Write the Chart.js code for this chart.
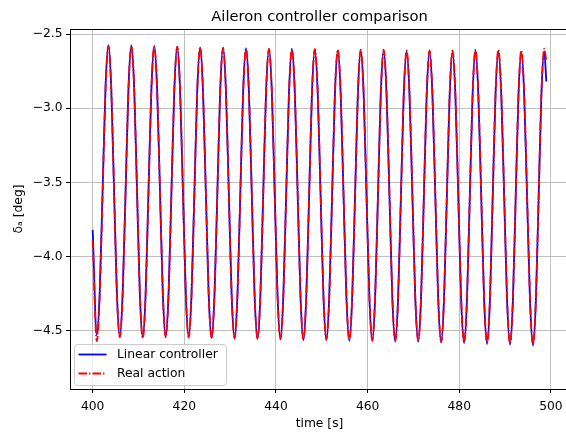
<!DOCTYPE html>
<html>
<head>
<meta charset="utf-8">
<script src="https://cdn.jsdelivr.net/npm/chart.js@4.4.1/dist/chart.umd.min.js"></script>
<style>
  html, body { margin: 0; padding: 0; background: #fff; overflow: hidden; }
  #wrap { width: 570px; height: 433px; }
</style>
</head>
<body>
<div id="wrap"><canvas id="chart" width="570" height="433"></canvas></div>
<script>
// time samples [s], eight per oscillation cycle (trough ... peak ...)
const times = [
  400.00,
  400.90, 401.53, 402.17, 402.80, 403.43, 404.05, 404.67, 405.29,
  405.91, 406.54, 407.18, 407.81, 408.44, 409.06, 409.68, 410.30,
  410.92, 411.55, 412.18, 412.81, 413.44, 414.06, 414.69, 415.31,
  415.93, 416.56, 417.19, 417.82, 418.45, 419.07, 419.70, 420.32,
  420.94, 421.57, 422.20, 422.82, 423.45, 424.07, 424.70, 425.32,
  425.95, 426.58, 427.21, 427.83, 428.46, 429.08, 429.71, 430.33,
  430.96, 431.59, 432.22, 432.84, 433.47, 434.09, 434.72, 435.34,
  435.97, 436.59, 437.22, 437.84, 438.47, 439.10, 439.73, 440.35,
  440.98, 441.60, 442.23, 442.85, 443.48, 444.11, 444.74, 445.36,
  445.99, 446.61, 447.24, 447.86, 448.48, 449.11, 449.74, 450.37,
  451.00, 451.62, 452.25, 452.87, 453.49, 454.12, 454.75, 455.38,
  456.01, 456.63, 457.26, 457.88, 458.50, 459.13, 459.76, 460.39,
  461.02, 461.64, 462.26, 462.88, 463.50, 464.13, 464.77, 465.40,
  466.03, 466.65, 467.27, 467.89, 468.51, 469.14, 469.78, 470.41,
  471.04, 471.66, 472.28, 472.90, 473.51, 474.14, 474.78, 475.41,
  476.05, 476.67, 477.29, 477.91, 478.52, 479.15, 479.79, 480.42,
  481.06, 481.68, 482.30, 482.92, 483.53, 484.16, 484.80, 485.43,
  486.07, 486.69, 487.30, 487.92, 488.53, 489.17, 489.81, 490.44,
  491.08, 491.70, 492.31, 492.93, 493.54, 494.17, 494.81, 495.45,
  496.09, 496.71, 497.32, 497.93, 498.54,
  499.00
];

// aileron deflection [deg]
const linearController = [
  -3.82,
  -4.53, -4.24, -3.55, -2.86, -2.575, -2.86, -3.56, -4.25,
  -4.54, -4.25, -3.56, -2.865, -2.575, -2.865, -3.56, -4.255,
  -4.545, -4.255, -3.56, -2.87, -2.58, -2.87, -3.56, -4.25,
  -4.54, -4.25, -3.565, -2.875, -2.585, -2.875, -3.565, -4.25,
  -4.54, -4.255, -3.565, -2.88, -2.59, -2.88, -3.57, -4.26,
  -4.55, -4.26, -3.57, -2.88, -2.59, -2.88, -3.57, -4.265,
  -4.555, -4.265, -3.575, -2.885, -2.595, -2.885, -3.575, -4.265,
  -4.555, -4.27, -3.58, -2.89, -2.60, -2.89, -3.58, -4.27,
  -4.56, -4.27, -3.58, -2.89, -2.60, -2.89, -3.585, -4.275,
  -4.565, -4.275, -3.585, -2.895, -2.605, -2.895, -3.585, -4.275,
  -4.565, -4.28, -3.59, -2.90, -2.61, -2.90, -3.59, -4.28,
  -4.57, -4.28, -3.59, -2.90, -2.61, -2.90, -3.59, -4.28,
  -4.57, -4.28, -3.59, -2.90, -2.61, -2.90, -3.59, -4.285,
  -4.575, -4.285, -3.595, -2.905, -2.615, -2.905, -3.595, -4.285,
  -4.575, -4.285, -3.595, -2.905, -2.615, -2.905, -3.60, -4.29,
  -4.58, -4.29, -3.60, -2.91, -2.62, -2.91, -3.60, -4.295,
  -4.585, -4.295, -3.60, -2.905, -2.61, -2.905, -3.60, -4.295,
  -4.59, -4.30, -3.60, -2.905, -2.615, -2.91, -3.605, -4.30,
  -4.595, -4.305, -3.61, -2.91, -2.62, -2.91, -3.61, -4.305,
  -4.60, -4.31, -3.61, -2.905, -2.615,
  -2.82
];

const realAction = [
  -3.89,
  -4.57, -4.275, -3.575, -2.875, -2.58, -2.87, -3.565, -4.255,
  -4.545, -4.255, -3.56, -2.87, -2.58, -2.87, -3.565, -4.26,
  -4.55, -4.26, -3.565, -2.875, -2.585, -2.875, -3.565, -4.255,
  -4.545, -4.255, -3.565, -2.875, -2.585, -2.875, -3.565, -4.255,
  -4.545, -4.26, -3.57, -2.88, -2.59, -2.88, -3.57, -4.26,
  -4.55, -4.26, -3.57, -2.88, -2.595, -2.885, -3.575, -4.26,
  -4.55, -4.265, -3.575, -2.89, -2.60, -2.89, -3.575, -4.265,
  -4.555, -4.27, -3.58, -2.89, -2.60, -2.89, -3.58, -4.27,
  -4.555, -4.27, -3.58, -2.89, -2.60, -2.89, -3.58, -4.27,
  -4.56, -4.27, -3.58, -2.89, -2.60, -2.89, -3.58, -4.27,
  -4.56, -4.275, -3.585, -2.895, -2.605, -2.895, -3.585, -4.275,
  -4.565, -4.275, -3.585, -2.895, -2.605, -2.895, -3.585, -4.275,
  -4.565, -4.275, -3.585, -2.895, -2.605, -2.90, -3.59, -4.28,
  -4.57, -4.28, -3.59, -2.90, -2.61, -2.90, -3.59, -4.28,
  -4.57, -4.28, -3.59, -2.90, -2.61, -2.90, -3.59, -4.285,
  -4.575, -4.285, -3.59, -2.90, -2.61, -2.90, -3.59, -4.285,
  -4.575, -4.285, -3.59, -2.90, -2.605, -2.90, -3.59, -4.29,
  -4.58, -4.29, -3.595, -2.90, -2.605, -2.90, -3.595, -4.29,
  -4.585, -4.29, -3.60, -2.90, -2.61, -2.90, -3.60, -4.295,
  -4.59, -4.295, -3.595, -2.895, -2.60,
  -2.68
];

const xTicks = [400, 420, 440, 460, 480, 500];
const yTicks = [-4.5, -4.0, -3.5, -3.0, -2.5];

const titleText = 'Aileron controller comparison';
const FONT = '"DejaVu Sans", Verdana, sans-serif';

function toPoints(xs, ys) {
  return xs.map((x, i) => ({ x: x, y: ys[i] }));
}

// title, top spine and an in-axes legend box like matplotlib's
const extras = {
  id: 'extras',
  afterDraw(chart) {
    const ctx = chart.ctx;
    const a = chart.chartArea;
    ctx.save();
    ctx.strokeStyle = '#000';
    ctx.lineWidth = 1;
    ctx.beginPath();
    ctx.moveTo(a.left, a.top + 0.5);
    ctx.lineTo(a.right, a.top + 0.5);
    ctx.stroke();

    ctx.fillStyle = '#000';
    ctx.font = '14.7px ' + FONT;
    ctx.textAlign = 'center';
    ctx.textBaseline = 'alphabetic';
    ctx.fillText(titleText, (a.left + a.right) / 2, 21);

    // legend
    const bx = 74.5, by = 344.5, bw = 152, bh = 41;
    ctx.fillStyle = 'rgba(255,255,255,0.8)';
    ctx.strokeStyle = '#cccccc';
    ctx.lineWidth = 1;
    ctx.beginPath();
    ctx.roundRect(bx, by, bw, bh, 3);
    ctx.fill();
    ctx.stroke();

    ctx.font = '12.3px ' + FONT;
    ctx.textAlign = 'left';
    ctx.textBaseline = 'middle';
    const rows = [354.5, 373.5];
    chart.data.datasets.forEach((ds, i) => {
      const y = rows[i];
      ctx.strokeStyle = ds.borderColor;
      ctx.lineWidth = ds.borderWidth;
      ctx.setLineDash(ds.borderDash || []);
      ctx.beginPath();
      ctx.moveTo(78.5, y);
      ctx.lineTo(106.5, y);
      ctx.stroke();
      ctx.setLineDash([]);
      ctx.fillStyle = '#000';
      ctx.fillText(ds.label, 117, y);
    });
    ctx.restore();
  }
};

new Chart(document.getElementById('chart'), {
  type: 'line',
  data: {
    datasets: [
      {
        label: 'Linear controller',
        data: toPoints(times, linearController),
        borderColor: '#0000ff',
        borderWidth: 1.8,
        pointRadius: 0,
        cubicInterpolationMode: 'monotone',
        order: 1
      },
      {
        label: 'Real action',
        data: toPoints(times, realAction),
        borderColor: '#ff0000',
        borderWidth: 1.8,
        borderDash: [8.5, 2.1, 1.3, 2.1],
        pointRadius: 0,
        cubicInterpolationMode: 'monotone',
        order: 0
      }
    ]
  },
  options: {
    responsive: false,
    animation: false,
    devicePixelRatio: 1,
    layout: { padding: { top: 29, right: 1, left: 0, bottom: 0 } },
    plugins: {
      legend: { display: false },
      title: { display: false },
      tooltip: { enabled: false }
    },
    scales: {
      x: {
        type: 'linear',
        min: 395.05,
        max: 503.95,
        afterFit: s => { s.height = 44; },
        afterBuildTicks: s => { s.ticks = xTicks.map(v => ({ value: v })); },
        ticks: {
          color: '#000',
          font: { family: FONT, size: 12.3 },
          padding: 6,
          maxRotation: 0,
          callback: v => String(v)
        },
        grid: { color: '#b0b0b0', lineWidth: 0.8, tickColor: '#000', tickLength: 4, tickWidth: 1 },
        border: { color: '#000', width: 1 },
        title: {
          display: true,
          text: 'time [s]',
          color: '#000',
          font: { family: FONT, size: 12.3 },
          padding: { top: 0, bottom: 2 }
        }
      },
      y: {
        min: -4.893,
        max: -2.466,
        afterFit: s => { s.width = 70; },
        afterBuildTicks: s => { s.ticks = yTicks.map(v => ({ value: v })); },
        ticks: {
          color: '#000',
          font: { family: FONT, size: 12.3 },
          padding: 3.5,
          callback: v => v.toFixed(1).replace('-', '\u2212')
        },
        grid: { color: '#b0b0b0', lineWidth: 0.8, tickColor: '#000', tickLength: 4, tickWidth: 1 },
        border: { color: '#000', width: 1 },
        title: {
          display: true,
          text: 'δₐ [deg]',
          color: '#000',
          font: { family: FONT, size: 12.3 },
          padding: { top: 11, bottom: 0 }
        }
      }
    }
  },
  plugins: [extras]
});
</script>
</body>
</html>
